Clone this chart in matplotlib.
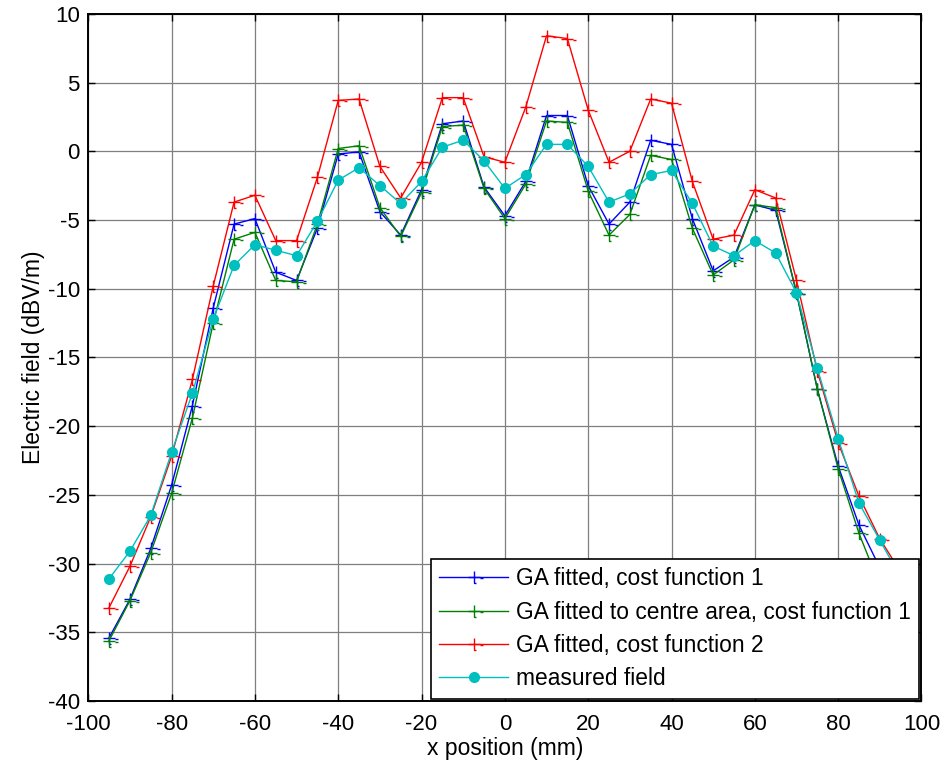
import numpy as np
import matplotlib
matplotlib.use('Agg')
import matplotlib.pyplot as plt
from matplotlib.path import Path

plt.rcParams['font.family'] = ['Liberation Sans', 'DejaVu Sans']
plt.rcParams['axes.unicode_minus'] = False

x_pos = [-95, -90, -85, -80, -75, -70, -65, -60, -55, -50, -45, -40, -35, -30, -25,
         -20, -15, -10, -5, 0, 5, 10, 15, 20, 25, 30, 35, 40, 45, 50,
         55, 60, 65, 70, 75, 80, 85, 90, 95]

ga_cost1 = [-35.4, -32.6, -28.9, -24.3, -18.5, -11.4, -5.3, -4.9, -8.8, -9.4, -5.6, -0.2, -0.05,
            -4.4, -6.1, -2.8, 2.0, 2.2, -2.6, -4.7, -2.2, 2.6, 2.6, -2.5, -5.3, -3.7,
            0.8, 0.5, -4.9, -8.7, -7.7, -3.9, -4.3, -10.3, -17.3, -22.9, -27.2, -30.3, -33.5]

ga_centre = [-35.6, -32.7, -29.2, -24.9, -19.4, -12.5, -6.4, -5.9, -9.4, -9.5, -5.3, 0.2, 0.4,
             -4.1, -6.2, -3.0, 1.8, 1.9, -2.7, -4.9, -2.4, 2.2, 2.1, -2.9, -6.1, -4.6,
             -0.3, -0.6, -5.6, -9.0, -7.9, -3.9, -4.1, -10.3, -17.3, -23.1, -27.8, -31.6, -34.5]

ga_cost2 = [-33.2, -30.2, -26.6, -22.2, -16.6, -9.8, -3.7, -3.2, -6.5, -6.5, -1.9, 3.7, 3.8,
            -1.1, -3.4, -0.8, 3.9, 3.9, -0.4, -0.8, 3.2, 8.4, 8.2, 3.0, -0.8, 0.0,
            3.8, 3.5, -2.2, -6.4, -6.1, -2.8, -3.4, -9.4, -16.0, -21.2, -25.1, -28.2, -30.6]

measured = [-31.1, -29.1, -26.5, -21.9, -17.6, -12.2, -8.3, -6.8, -7.2, -7.6, -5.1, -2.1, -1.2,
            -2.5, -3.8, -2.2, 0.3, 0.8, -0.7, -2.7, -1.7, 0.5, 0.5, -1.1, -3.7, -3.1,
            -1.7, -1.4, -3.8, -6.9, -7.6, -6.5, -7.4, -10.3, -15.8, -20.9, -25.6, -28.3, -31.0]

labels = ['GA fitted, cost function 1',
          'GA fitted to centre area, cost function 1',
          'GA fitted, cost function 2',
          'measured field']

# plus sign with the little foot and dash seen in the exported figure
plus_verts = [(0, 1), (0, -1), (-1, 0), (1, 0), (0, -1), (0.35, -1), (0.9, -0.15), (1.4, -0.15)]
plus_codes = [Path.MOVETO, Path.LINETO] * 4
plus_marker = Path(plus_verts, plus_codes)

fig = plt.figure(figsize=(9.49, 7.67), dpi=100)
ax = fig.add_axes([0.093, 0.086, 0.878, 0.896])

ax.plot(x_pos, ga_cost1, color=(0, 0, 1), lw=1.0, marker=plus_marker, markersize=13,
        markeredgewidth=1.0, label=labels[0])
ax.plot(x_pos, ga_centre, color=(0, 0.5, 0), lw=1.0, marker=plus_marker, markersize=13,
        markeredgewidth=1.0, label=labels[1])
ax.plot(x_pos, ga_cost2, color=(1, 0, 0), lw=1.0, marker=plus_marker, markersize=13,
        markeredgewidth=1.0, label=labels[2])
ax.plot(x_pos, measured, color=(0, 0.75, 0.75), lw=1.0, marker='o', markersize=7,
        label=labels[3])

ax.set_xlim(-100, 100)
ax.set_ylim(-40, 10)
ax.set_xticks(np.arange(-100, 101, 20))
ax.set_yticks(np.arange(-40, 11, 5))
ax.grid(True, color='#7f7f7f', lw=0.9)
ax.set_axisbelow(True)
ax.tick_params(direction='in', length=5, width=1, top=True, right=True, labelsize=16)
ax.tick_params(axis='x', pad=9)
ax.tick_params(axis='y', pad=6)
for s in ax.spines.values():
    s.set_linewidth(1.4)

ax.set_xlabel('x position (mm)', fontsize=16.5, labelpad=2)
ax.set_ylabel('Electric field (dBV/m)', fontsize=16.5, labelpad=2)

leg = ax.legend(loc='lower right', fontsize=16.4, frameon=True, fancybox=False,
                edgecolor='black', framealpha=1, borderaxespad=0.1, handlelength=3,
                handletextpad=0.35, labelspacing=0.45, borderpad=0.38)
leg.get_frame().set_linewidth(1.2)

fig.savefig('out.png', dpi=100)
